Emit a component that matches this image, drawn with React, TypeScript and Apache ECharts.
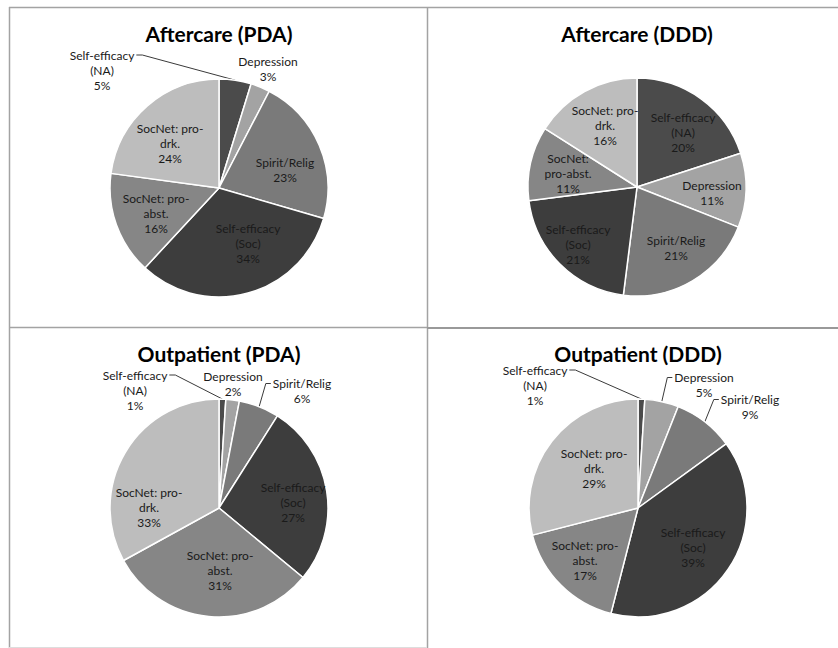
import React, { useEffect, useRef } from "react";
import * as echarts from "echarts";

// ---- data ----
const CATEGORIES = [
  "Self-efficacy (NA)",
  "Depression",
  "Spirit/Relig",
  "Self-efficacy (Soc)",
  "SocNet: pro-abst.",
  "SocNet: pro-drk.",
];
const CHART_TITLES = ["Aftercare (PDA)", "Aftercare (DDD)", "Outpatient (PDA)", "Outpatient (DDD)"];
const AFTERCARE_PDA = [5, 3, 23, 34, 16, 24];
const AFTERCARE_DDD = [20, 11, 21, 21, 11, 16];
const OUTPATIENT_PDA = [1, 2, 6, 27, 31, 33];
const OUTPATIENT_DDD = [1, 5, 9, 39, 17, 29];

// wrapped label text (as in the original chart)
const LABELS_DEFAULT = [
  "Self-efficacy\n(NA)",
  "Depression",
  "Spirit/Relig",
  "Self-efficacy\n(Soc)",
  "SocNet: pro-\nabst.",
  "SocNet: pro-\ndrk.",
];
const LABELS_AFTERCARE_DDD = [
  "Self-efficacy\n(NA)",
  "Depression",
  "Spirit/Relig",
  "Self-efficacy\n(Soc)",
  "SocNet:\npro-abst.",
  "SocNet: pro-\ndrk.",
];

const SERIES_VALUES = [AFTERCARE_PDA, AFTERCARE_DDD, OUTPATIENT_PDA, OUTPATIENT_DDD];
const SERIES_LABELS = [LABELS_DEFAULT, LABELS_AFTERCARE_DDD, LABELS_DEFAULT, LABELS_DEFAULT];

// ---- styles / layout ----
const COLORS = ["#4b4b4b", "#a3a3a3", "#7a7a7a", "#3d3d3d", "#868686", "#bdbdbd"];
const FONT = "Lato, 'Open Sans', 'DejaVu Sans', sans-serif";
const TEXT_COLOR = "#1a1a1a";
const LINE_H = 15;
const RADIUS = 109;

type Lead = "left" | "right" | null;
const PANELS: {
  center: [number, number];
  titleY: number;
  offsets: [number, number][];
  leads: Lead[];
}[] = [
  {
    center: [219, 188],
    titleY: 33,
    offsets: [[-117, -118], [49, -119], [66, -18], [29, 55], [-63, 25], [-49, -45]],
    leads: ["left", null, null, null, null, null],
  },
  {
    center: [637, 187],
    titleY: 33,
    offsets: [[46, -55], [75, 6], [39, 61], [-59, 57], [-69, -14], [-32, -62]],
    leads: [null, null, null, null, null, null],
  },
  {
    center: [219, 508],
    titleY: 353,
    offsets: [[-84, -118], [14, -124], [83, -117], [74, -6], [1, 62], [-70, -1]],
    leads: ["left", null, "right", null, null, null],
  },
  {
    center: [638, 508],
    titleY: 353,
    offsets: [[-103, -123], [66, -123], [112, -101], [55, 39], [-53, 52], [-44, -40]],
    leads: ["left", "right", "right", null, null, null],
  },
];

function midAngle(values: number[], i: number): number {
  const total = values.reduce((a, b) => a + b, 0);
  let before = 0;
  for (let k = 0; k < i; k++) before += values[k];
  return ((before + values[i] / 2) / total) * Math.PI * 2;
}

export default function App() {
  const ref = useRef<HTMLDivElement>(null);

  useEffect(() => {
    if (!ref.current) return;
    const chart = echarts.init(ref.current, null, { renderer: "svg" });

    const series = SERIES_VALUES.map((values, s) => {
      const panel = PANELS[s];
      const labels = SERIES_LABELS[s];
      return {
        type: "pie",
        name: CHART_TITLES[s],
        center: panel.center,
        radius: RADIUS,
        startAngle: 90,
        clockwise: true,
        avoidLabelOverlap: false,
        itemStyle: { borderColor: "#ffffff", borderWidth: 1.5 },
        emphasis: { disabled: true },
        label: {
          show: true,
          position: "outside",
          color: TEXT_COLOR,
          fontFamily: FONT,
          fontSize: 12,
          lineHeight: LINE_H,
          align: "center",
        },
        labelLine: { show: false },
        labelLayout: (params: any) => {
          const i = params.dataIndex;
          const [cx, cy] = panel.center;
          const [ox, oy] = panel.offsets[i];
          const x = cx + ox;
          const y = cy + oy;
          const res: any = { x, y, align: "center", verticalAlign: "middle" };
          const lead = panel.leads[i];
          if (lead) {
            const w = params.labelRect.width;
            const h = params.labelRect.height;
            const firstY = y - h / 2 + LINE_H / 2;
            const a = midAngle(values, i);
            const anchor = [cx + RADIUS * Math.sin(a), cy - RADIUS * Math.cos(a)];
            if (lead === "left") {
              const sx = x + w / 2;
              res.labelLinePoints = [[sx + 2, firstY], [sx + 8, firstY], anchor];
            } else {
              const sx = x - w / 2;
              res.labelLinePoints = [[sx - 2, firstY], [sx - 7, firstY], anchor];
            }
          }
          return res;
        },
        data: values.map((v, i) => ({
          name: CATEGORIES[i],
          value: v,
          itemStyle: { color: COLORS[i] },
          label: {
            formatter: () => `${labels[i]}\n${v}%`,
          },
          labelLine: {
            show: panel.leads[i] != null,
            lineStyle: { color: "#3a3a3a", width: 1 },
          },
        })),
      };
    });

    const borderColor = "#a3a3a3";
    const graphics: any[] = [
      { type: "line", shape: { x1: 9, y1: 7.5, x2: 838, y2: 7.5 }, style: { stroke: borderColor, lineWidth: 1.5 } },
      { type: "line", shape: { x1: 9.5, y1: 7, x2: 9.5, y2: 648 }, style: { stroke: borderColor, lineWidth: 1.5 } },
      { type: "line", shape: { x1: 427.5, y1: 7, x2: 427.5, y2: 648 }, style: { stroke: borderColor, lineWidth: 1.5 } },
      { type: "line", shape: { x1: 9, y1: 327.5, x2: 427, y2: 327.5 }, style: { stroke: borderColor, lineWidth: 1.5 } },
      { type: "line", shape: { x1: 427, y1: 328, x2: 838, y2: 328 }, style: { stroke: "#999999", lineWidth: 2 } },
      { type: "line", shape: { x1: 9, y1: 647.5, x2: 427, y2: 647.5 }, style: { stroke: "#dddddd", lineWidth: 1 } },
    ];
    PANELS.forEach((p, s) => {
      graphics.push({
        type: "text",
        x: p.center[0],
        y: p.titleY,
        style: {
          text: CHART_TITLES[s],
          fill: "#000000",
          font: `bold 21px ${FONT}`,
          textAlign: "center",
          textVerticalAlign: "middle",
        },
      });
    });

    chart.setOption({
      animation: false,
      backgroundColor: "#ffffff",
      graphic: graphics,
      series,
    });

    return () => chart.dispose();
  }, []);

  return (
    <div
      ref={ref}
      style={{ position: "fixed", left: 0, top: 0, width: 838, height: 648 }}
    />
  );
}
